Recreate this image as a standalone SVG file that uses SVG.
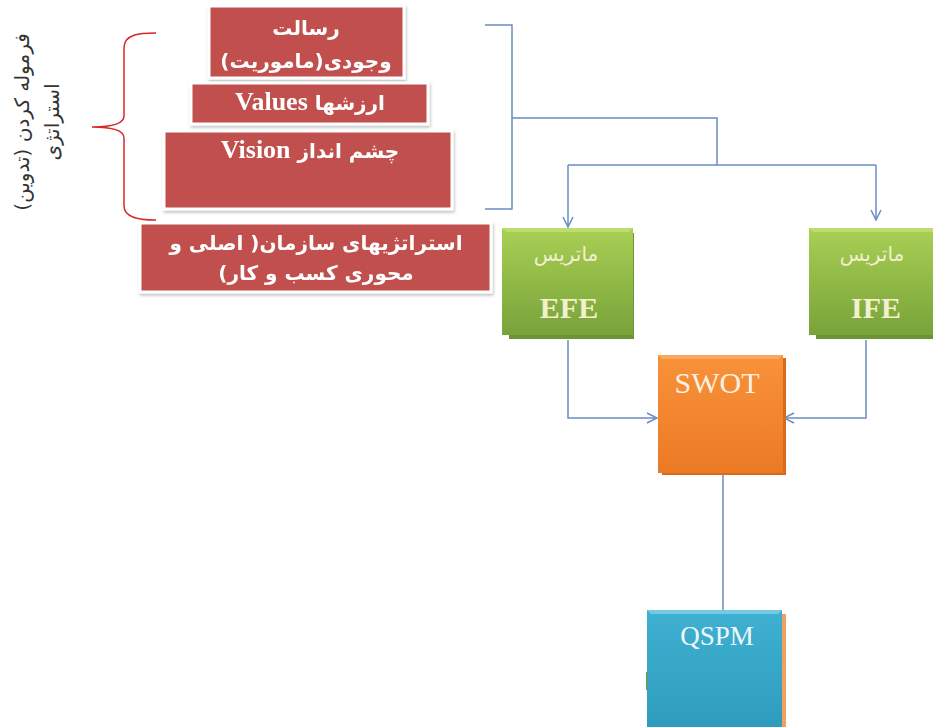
<svg xmlns="http://www.w3.org/2000/svg" width="933" height="727" viewBox="0 0 933 727">
  <style>
    .fa { font-family: "DejaVu Sans", "Noto Sans", sans-serif; }
    .red-box { fill: #c0504d; stroke: #ffffff; stroke-width: 3; }
    .red-text { fill: #ffffff; font-weight: bold; font-size: 20px; text-anchor: middle; }
    .en-bold { font-family: "Liberation Serif", "Times New Roman", serif; font-weight: bold; font-size: 26px; }
    .link { fill: none; stroke: #6a8cc4; stroke-width: 1.5; }
    .brace { fill: none; stroke: #d42a2a; stroke-width: 1.5; }
    .green-text { fill: #f3efcf; text-anchor: middle; }
    .serif { font-family: "Liberation Serif", "Times New Roman", serif; }
  </style>
  <defs>
    <linearGradient id="gGreen" x1="0" y1="0" x2="0" y2="1">
      <stop offset="0" stop-color="#a9cf54"/>
      <stop offset="1" stop-color="#78a33a"/>
    </linearGradient>
    <linearGradient id="gOrange" x1="0" y1="0" x2="0" y2="1">
      <stop offset="0" stop-color="#f8923a"/>
      <stop offset="1" stop-color="#ec7a24"/>
    </linearGradient>
    <linearGradient id="gBlue" x1="0" y1="0" x2="0" y2="1">
      <stop offset="0" stop-color="#3fb1d2"/>
      <stop offset="1" stop-color="#2f9cbd"/>
    </linearGradient>
    <filter id="soft" x="-10%" y="-10%" width="130%" height="130%">
      <feDropShadow dx="1" dy="2" stdDeviation="1.5" flood-color="#000" flood-opacity="0.25"/>
    </filter>
    <marker id="arrow" viewBox="0 0 12 12" refX="11" refY="6" markerWidth="12" markerHeight="12" markerUnits="userSpaceOnUse" orient="auto">
      <path d="M1,1 L11,6 L1,11" fill="none" stroke="#6a8cc4" stroke-width="1.5"/>
    </marker>
  </defs>
  <rect width="933" height="727" fill="#ffffff"/>

  <!-- side label, rotated -->
  <g id="side-label" class="fa" fill="#333333" font-size="20">
    <text transform="translate(29,122) rotate(-90)" text-anchor="middle" direction="rtl">فرموله کردن (تدوین)</text>
    <text transform="translate(59,122) rotate(-90)" text-anchor="middle" direction="rtl">استراتژی</text>
  </g>

  <!-- red curly brace -->
  <path id="brace" class="brace" d="M156,33 C140,33 124,34 124,48 L124,116 C124,124 110,127 92,127 C110,127 124,130 124,138 L124,206 C124,218 140,220 156,220"/>

  <!-- red stack -->
  <g id="mission" filter="url(#soft)">
    <rect class="red-box" x="209" y="6" width="195" height="72"/>
    <text class="fa red-text" x="306" y="35" direction="rtl">رسالت</text>
    <text class="fa red-text" x="306" y="68" direction="rtl">وجودی(ماموریت)</text>
  </g>
  <g id="values" filter="url(#soft)">
    <rect class="red-box" x="191" y="83" width="237" height="41"/>
    <text class="fa red-text" x="310" y="110" direction="rtl">ارزشها <tspan class="en-bold">Values</tspan></text>
  </g>
  <g id="vision" filter="url(#soft)">
    <rect class="red-box" x="164" y="131" width="288" height="78"/>
    <text class="fa red-text" x="310" y="158" direction="rtl">چشم انداز <tspan class="en-bold">Vision</tspan></text>
  </g>
  <g id="strategies" filter="url(#soft)">
    <rect class="red-box" x="140" y="223" width="351" height="69"/>
    <text class="fa red-text" x="316" y="250" direction="rtl" font-size="19">استراتژیهای سازمان( اصلی و</text>
    <text class="fa red-text" x="316" y="280" direction="rtl">محوری کسب و کار)</text>
  </g>

  <!-- connectors -->
  <g id="connectors">
    <path class="link" d="M485,25 L512,25 L512,209 L485,209"/>
    <path class="link" d="M512,118 L717,118 L717,165"/>
    <path class="link" d="M568,165 L876,165"/>
    <path class="link" d="M568,165 L568,227" marker-end="url(#arrow)"/>
    <path class="link" d="M876,165 L876,220" marker-end="url(#arrow)"/>
    <path class="link" d="M568,340 L568,418 L657,418" marker-end="url(#arrow)"/>
    <path class="link" d="M866,340 L866,418 L784,418" marker-end="url(#arrow)"/>
    <path class="link" d="M723,474 L723,610"/>
  </g>

  <!-- EFE -->
  <g id="efe">
    <rect x="509" y="233" width="125" height="106" fill="#6e9535"/>
    <rect x="502" y="228" width="131" height="107" fill="url(#gGreen)"/>
    <path d="M502,228 L633,228 L629,232 L506,232 Z" fill="#c6e27a" opacity="0.7"/>
    <text class="fa green-text" x="566" y="261" font-size="20" direction="rtl">ماتریس</text>
    <text class="serif green-text" x="569" y="318" font-size="30" font-weight="bold">EFE</text>
  </g>

  <!-- IFE -->
  <g id="ife">
    <rect x="816" y="233" width="117" height="106" fill="#6e9535"/>
    <rect x="809" y="228" width="124" height="107" fill="url(#gGreen)"/>
    <path d="M809,228 L933,228 L933,232 L813,232 Z" fill="#c6e27a" opacity="0.7"/>
    <text class="fa green-text" x="872" y="261" font-size="20" direction="rtl">ماتریس</text>
    <text class="serif green-text" x="876" y="318" font-size="30" font-weight="bold">IFE</text>
  </g>

  <!-- SWOT -->
  <g id="swot">
    <rect x="662" y="358" width="124" height="117" fill="#d96a18"/>
    <rect x="658" y="355" width="125" height="118" fill="url(#gOrange)"/>
    <path d="M658,355 L783,355 L779,359 L662,359 Z" fill="#fbb070" opacity="0.7"/>
    <text class="serif" x="717" y="393" font-size="30" fill="#fdf0e0" text-anchor="middle">SWOT</text>
  </g>

  <!-- QSPM -->
  <g id="qspm">
    <rect x="646" y="672" width="4" height="18" fill="#7a9a2e"/>
    <rect x="650" y="614" width="136" height="113" fill="#f0a060"/>
    <rect x="647" y="610" width="135" height="117" fill="url(#gBlue)"/>
    <path d="M647,610 L782,610 L778,614 L651,614 Z" fill="#8ad4ea" opacity="0.7"/>
    <text class="serif" x="717" y="645" font-size="27" fill="#eef8fb" text-anchor="middle">QSPM</text>
  </g>
</svg>
